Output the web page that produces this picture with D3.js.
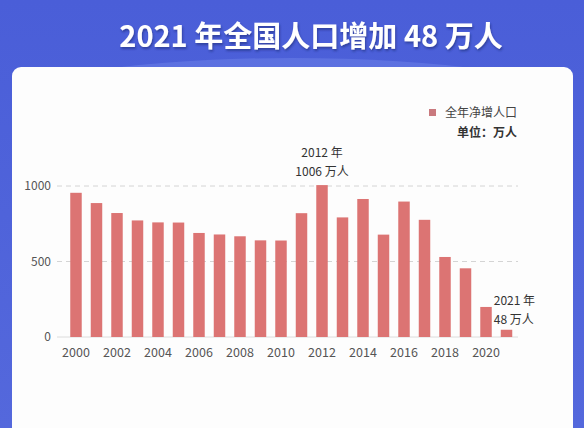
<!DOCTYPE html>
<html>
<head>
<meta charset="utf-8">
<script src="https://cdn.jsdelivr.net/npm/d3@7"></script>
<style type="text/css">
	body { margin:0; background:#4f63da; }
	svg { display:block; font-family:"Noto Sans CJK SC","Noto Sans",sans-serif; }
</style>
</head>
<body>
<svg id="popSvg" width="584" height="428"></svg>
<script type="text/javascript">
	// 全年净增人口 (万人)
	var years = [2000,2001,2002,2003,2004,2005,2006,2007,2008,2009,2010,
	             2011,2012,2013,2014,2015,2016,2017,2018,2019,2020,2021];
	var netIncrease = [955,887,821,772,759,758,689,679,667,640,639,
	                   820,1006,792,914,678,897,776,530,455,199,48];
	var yTicks = [0,500,1000];
	var xTickYears = [2000,2002,2004,2006,2008,2010,2012,2014,2016,2018,2020];

	var svg = d3.select("#popSvg");

	// background
	var defs = svg.append("defs");
	var grad = defs.append("linearGradient").attr("id","bg")
		.attr("x1",0).attr("y1",0).attr("x2",0).attr("y2",1);
	grad.append("stop").attr("offset","0%").attr("stop-color","#4a5ed8");
	grad.append("stop").attr("offset","100%").attr("stop-color","#5468dc");
	svg.append("rect").attr("width",584).attr("height",428).attr("fill","url(#bg)");
	svg.append("ellipse").attr("cx",292).attr("cy",100).attr("rx",276).attr("ry",42)
		.attr("fill","#6c80e8").attr("opacity",0.55);

	var shadow = defs.append("filter").attr("id","ts").attr("x","-10%").attr("y","-30%")
		.attr("width","120%").attr("height","160%");
	shadow.append("feDropShadow").attr("dx",1).attr("dy",2).attr("stdDeviation",1.2)
		.attr("flood-color","#1d2a7a").attr("flood-opacity",0.6);

	svg.append("text")
		.attr("x",311).attr("y",47)
		.attr("text-anchor","middle")
		.attr("fill","#fff")
		.attr("font-size",29)
		.attr("font-weight","bold")
		.attr("filter","url(#ts)")
		.text("2021 年全国人口增加 48 万人");

	// white card
	svg.append("rect").attr("x",12).attr("y",67).attr("width",561).attr("height",400)
		.attr("rx",9).attr("fill","#fdfdfd");

	var x = d3.scaleBand().domain(years).range([60,522.5]).paddingInner(0.44).paddingOuter(0.5),
	    y = d3.scaleLinear().domain([0,1000]).range([337,186]);

	var g = svg.append("g");

	// grid
	g.selectAll(".grid")
		.data(yTicks.filter(function(d){ return d > 0; }))
		.enter().append("line")
		.attr("x1",57).attr("x2",518)
		.attr("y1",function(d){ return y(d); })
		.attr("y2",function(d){ return y(d); })
		.attr("stroke","#d4d4d4")
		.attr("stroke-dasharray","5,4");
	g.append("line")
		.attr("x1",57).attr("x2",518)
		.attr("y1",y(0)).attr("y2",y(0))
		.attr("stroke","#dcdcdc");

	g.selectAll(".ylab")
		.data(yTicks)
		.enter().append("text")
		.attr("x",51)
		.attr("y",function(d){ return y(d); })
		.attr("dy","0.35em")
		.attr("text-anchor","end")
		.attr("font-size",12)
		.attr("fill","#555")
		.text(function(d){ return d; });

	g.selectAll(".bar")
		.data(years)
		.enter().append("rect")
		.attr("x",function(d){ return x(d); })
		.attr("y",function(d,i){ return y(netIncrease[i]); })
		.attr("width",x.bandwidth())
		.attr("height",function(d,i){ return y(0) - y(netIncrease[i]); })
		.attr("fill","#dc7473");

	g.selectAll(".xlab")
		.data(xTickYears)
		.enter().append("text")
		.attr("x",function(d){ return x(d) + x.bandwidth()/2; })
		.attr("y",357)
		.attr("text-anchor","middle")
		.attr("font-size",12.5)
		.attr("fill","#555")
		.text(function(d){ return d; });

	// annotations
	var peak = years.indexOf(2012);
	var ann1 = g.append("text").attr("text-anchor","middle").attr("font-size",12).attr("fill","#333");
	ann1.append("tspan").attr("x",x(2012)+x.bandwidth()/2).attr("y",y(netIncrease[peak])-28)
		.text("2012 年");
	ann1.append("tspan").attr("x",x(2012)+x.bandwidth()/2).attr("y",y(netIncrease[peak])-9)
		.text(netIncrease[peak] + " 万人");

	var last = years.length - 1;
	var ann2 = g.append("text").attr("font-size",12).attr("fill","#333");
	ann2.append("tspan").attr("x",x(2021)-7).attr("y",y(netIncrease[last])-25)
		.text("2021 年");
	ann2.append("tspan").attr("x",x(2021)-7).attr("y",y(netIncrease[last])-6)
		.text(netIncrease[last] + " 万人");

	// legend
	var lg = svg.append("g");
	lg.append("rect").attr("x",429).attr("y",109).attr("width",7).attr("height",7).attr("fill","#c9797e");
	lg.append("text").attr("x",517).attr("y",113).attr("dy","0.35em").attr("text-anchor","end")
		.attr("font-size",12).attr("fill","#444").text("全年净增人口");
	lg.append("text").attr("x",517).attr("y",133).attr("dy","0.35em").attr("text-anchor","end")
		.attr("font-size",12).attr("fill","#333").attr("font-weight","bold").text("单位：万人");
</script>
</body>
</html>
